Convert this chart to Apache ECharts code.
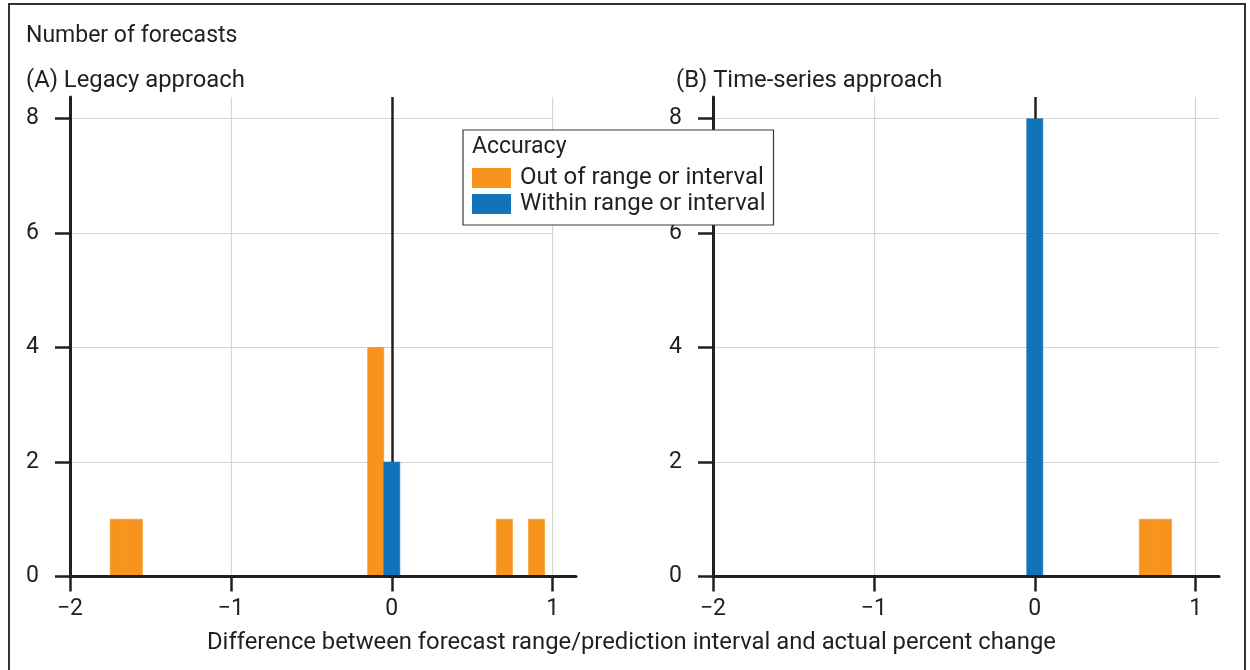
<!DOCTYPE html>
<html>
<head>
<meta charset="utf-8">
<script src="https://cdn.jsdelivr.net/npm/echarts@6/dist/echarts.min.js"></script>
<style>
html,body{margin:0;padding:0;background:#fff;}
#chart{width:1250px;height:670px;}
</style>
</head>
<body>
<div id="chart"></div>
<script>
// ---- data ----
const xTicks = [-2, -1, 0, 1];
const yTicks = [0, 2, 4, 6, 8];
const gridX = [-1, 1];
const gridY = [2, 4, 6, 8];
// bins: [from, to, count]
const legacyOut = [[-1.75, -1.65, 1], [-1.65, -1.55, 1], [-0.15, -0.05, 4], [0.65, 0.75, 1], [0.85, 0.95, 1]];
const legacyWithin = [[-0.05, 0.05, 2]];
const tsOut = [[0.65, 0.75, 1], [0.75, 0.85, 1]];
const tsWithin = [[-0.05, 0.05, 8]];
const seriesNames = ['Out of range or interval', 'Within range or interval'];
const colors = ['#f7941d', '#1174bb'];

const FONT = 'Roboto';
const TXT = '#231f20';
const GRIDC = '#d4d4d4';

function fmtX(v) { return v < 0 ? '\u2212' + Math.abs(v) : String(v); }

function renderBin(params, api) {
  const p0 = api.coord([api.value(0), api.value(2)]);
  const p1 = api.coord([api.value(1), 0]);
  const c = api.visual('color');
  return {
    type: 'rect',
    shape: { x: p0[0], y: p0[1], width: p1[0] - p0[0], height: p1[1] - p0[1] },
    style: { fill: c, stroke: c, lineWidth: 0.6 }
  };
}

function makeAxes(idx) {
  return {
    x: {
      type: 'value', gridIndex: idx, min: -2, max: 1.145, interval: 1, z: 10,
      axisLine: { show: true, onZero: false, lineStyle: { color: TXT, width: 3 } },
      axisTick: { show: true, length: 15, customValues: xTicks, lineStyle: { color: TXT, width: 2.5 } },
      axisLabel: { customValues: xTicks, formatter: fmtX, margin: 21, color: TXT, fontFamily: FONT, fontSize: 23 },
      splitLine: { show: false }
    },
    y: {
      type: 'value', gridIndex: idx, min: 0, max: 8.38, interval: 2, z: 10,
      axisLine: { show: true, onZero: false, lineStyle: { color: TXT, width: 3 } },
      axisTick: { show: true, length: 15, customValues: yTicks, lineStyle: { color: TXT, width: 2.5 } },
      axisLabel: { customValues: yTicks, margin: 31, color: TXT, fontFamily: FONT, fontSize: 23 },
      splitLine: { show: false }
    }
  };
}

const a0 = makeAxes(0), a1 = makeAxes(1);

function helper(idx, xEnd) {
  const data = [];
  gridX.forEach(v => data.push({ xAxis: v }));
  gridY.forEach(v => data.push([{ coord: [-2, v] }, { coord: [xEnd, v] }]));
  data.push({ xAxis: 0, lineStyle: { color: TXT, width: 2.5 } });
  return {
    type: 'line', xAxisIndex: idx, yAxisIndex: idx, data: [], z: 1, silent: true,
    markLine: {
      silent: true, symbol: ['none', 'none'], animation: false,
      label: { show: false },
      lineStyle: { color: GRIDC, width: 1.2, type: 'solid' },
      emphasis: { disabled: true },
      data: data
    }
  };
}

function bars(idx, name, color, data) {
  return {
    type: 'custom', name: name, xAxisIndex: idx, yAxisIndex: idx, z: 5,
    itemStyle: { color: color },
    renderItem: renderBin,
    encode: { x: [0, 1], y: 2 },
    data: data
  };
}

const titleStyle = (size) => ({ color: TXT, fontFamily: FONT, fontSize: size, fontWeight: 'normal' });

const chart = echarts.init(document.getElementById('chart'));
chart.setOption({
  animation: false,
  backgroundColor: '#fff',
  textStyle: { fontFamily: FONT },
  grid: [
    { left: 70, top: 97, width: 506, bottom: 93.5 },
    { left: 713, top: 97, width: 506, bottom: 93.5 }
  ],
  xAxis: [a0.x, a1.x],
  yAxis: [a0.y, a1.y],
  title: [
    { text: 'Number of forecasts', left: 26, top: 25, padding: 0, textStyle: titleStyle(23) },
    { text: '(A) Legacy approach', left: 26, top: 69, padding: 0, textStyle: titleStyle(23.8) },
    { text: '(B) Time-series approach', left: 676, top: 69, padding: 0, textStyle: titleStyle(23.8) },
    { text: 'Accuracy', left: 472, top: 136, padding: 0, z: 20, textStyle: titleStyle(23) },
    { text: 'Difference between forecast range/prediction interval and actual percent change', left: 207, top: 631, padding: 0, textStyle: titleStyle(23.8) }
  ],
  legend: {
    orient: 'vertical', left: 463, top: 130,
    padding: [36, 8, 9, 9],
    itemGap: 2, itemWidth: 39, itemHeight: 20,
    backgroundColor: '#fff', borderColor: '#3a3a3a', borderWidth: 1.2,
    selectedMode: false, z: 15,
    textStyle: { color: TXT, fontFamily: FONT, fontSize: 24, lineHeight: 20, padding: [0, 0, 0, 4] },
    data: seriesNames.map(n => ({ name: n, icon: 'rect' }))
  },
  graphic: [
    { type: 'rect', shape: { x: 9, y: 4, width: 1236, height: 720 }, style: { fill: 'none', stroke: '#333', lineWidth: 2 }, silent: true, z: 100 }
  ],
  series: [
    helper(0, 1),
    helper(1, 1.145),
    bars(0, seriesNames[0], colors[0], legacyOut),
    bars(0, seriesNames[1], colors[1], legacyWithin),
    bars(1, seriesNames[0], colors[0], tsOut),
    bars(1, seriesNames[1], colors[1], tsWithin)
  ]
});
</script>
</body>
</html>
